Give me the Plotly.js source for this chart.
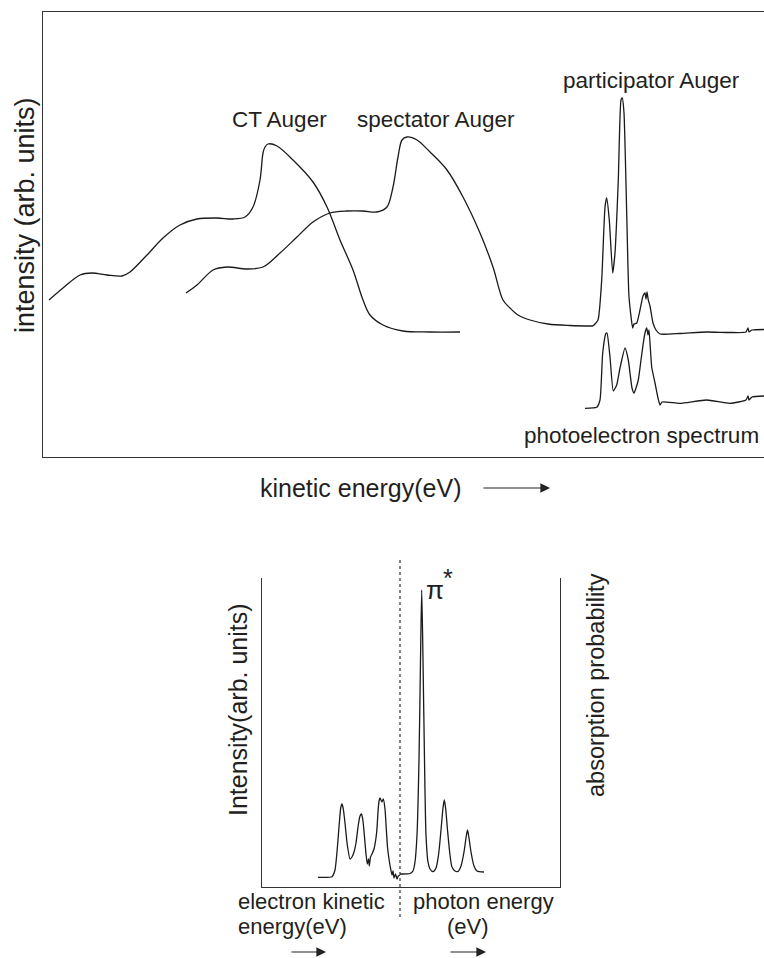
<!DOCTYPE html>
<html>
<head>
<meta charset="utf-8">
<script src="https://cdn.plot.ly/plotly-3.0.1.min.js"></script>
<style>html,body{margin:0;padding:0;background:#fff;}#chart{width:764px;height:958px;}</style>
</head>
<body>
<div id="chart"></div>
<script>
// ---------- Top panel: kinetic energy (arb.) vs intensity (arb.) ----------
const ctEnergy = [6,20,37,49,64,79,87,104,120,137,154,174,190,202,210,217,220,222,225,234,250,270,284,297,310,320,327,340,360,387,417];
const ctIntensity = [157,169,182,184,182,181,185,202,219,232,238,239,238,240,250,277,304,310,313,311,297,275,250,217,187,157,142,132,126,125,125];

const specEnergy = [143,154,170,184,204,220,237,254,270,287,304,320,334,344,350,355,359,364,374,387,404,420,437,450,460,467,475,487,505,527,550];
const specIntensity = [164,172,187,190,188,190,204,220,235,244,246,246,245,250,270,300,317,320,317,305,287,260,224,190,157,149,142,137,133,131.5,131];

const partEnergy = [550,555,558.7,562,563.7,566.3,569.7,572,575.3,578,579.3,581,583.7,586,589.7,591,593.7,597,600,602,603,604,605.3,607,610,613,617,637,663.7,687,703,705,706,709,721];
const partIntensity = [131,137,177,250,259,237,184,204,277,357,359,344,244,160,129,133,134,147,161,164,158,165,157,151,134,127,123,123.5,125,124.5,125,129,125,127,127.5];

const peEnergy = [542,553.7,557,559.7,563,564,567,570.3,573.7,577,582,585.3,589,591,593,595.3,598,600.3,602,603.7,605,606,608.7,612,615,617,619,637,663.7,687,703,705,706,709,721];
const peIntensity = [48.7,49.7,57,104,123.7,124,100,66,72,89,109,97,69,64,69,77,97,114,124,129,122,127,90,74,59,52,55,53.7,57,53.7,57,61,57,60,61];

// ---------- Bottom panel ----------
const ekEnergy = [56,70,73,75,77,78.7,80,81.3,83,85.3,88,90,92,94,96.3,98,99.5,101,102.5,104,105.3,106.5,107.3,108.5,110,112,114.7,116,117,118,120,121.3,123,124.3,125.5,127,128.5,130,131,132,133.5,135,136.3,138];
const ekIntensity = [9.7,10.3,17,35,60,79,83,78,64,42,28,30,35,44,62,71,73,66,50,33,23,28,21,30,33,38,55,75,86,89,85,88,78,58,40,28,19,12,16,9,13,8,11,12];

const phEnergy = [138,148,151,153,155,157,158.5,159.7,161,162.5,164,166,168,171,174,176.5,179,181,182.3,183.6,185.5,188,190,193,196,199,202,204,205.5,207,209,212,215,222];
const phIntensity = [13,13.5,16,25,52,127,227,297,227,127,52,25,18,15.3,19,32,57,79,87,79,57,32,20,16,15.5,21,35,49,57,49,35,21,16,15];

const textColor = '#231f20';
const lineColor = '#1a1a1a';
const W = 764, H = 958;
const px = v => v / W;
const py = v => 1 - v / H;

const lineStyle = (s) => ({color: lineColor, width: 1.3, shape: 'spline', smoothing: s});

const traces = [
  {x: ctEnergy, y: ctIntensity, mode: 'lines', line: lineStyle(0.9), xaxis: 'x', yaxis: 'y', name: 'CT Auger'},
  {x: specEnergy, y: specIntensity, mode: 'lines', line: lineStyle(0.9), xaxis: 'x', yaxis: 'y', name: 'spectator Auger'},
  {x: partEnergy, y: partIntensity, mode: 'lines', line: lineStyle(0.5), xaxis: 'x', yaxis: 'y', name: 'participator Auger'},
  {x: peEnergy, y: peIntensity, mode: 'lines', line: lineStyle(0.5), xaxis: 'x', yaxis: 'y', name: 'photoelectron spectrum'},
  {x: ekEnergy, y: ekIntensity, mode: 'lines', line: lineStyle(0.5), xaxis: 'x2', yaxis: 'y2', name: 'electron'},
  {x: phEnergy, y: phIntensity, mode: 'lines', line: lineStyle(0.7), xaxis: 'x2', yaxis: 'y2', name: 'photon'}
];

const axisBase = {showgrid: false, zeroline: false, showticklabels: false, ticks: '', showline: true, linecolor: '#333', linewidth: 1.3, fixedrange: true};

const fontBase = {family: '"Liberation Sans", Arial, Helvetica, sans-serif', color: textColor};
const ann = (text, x, y, size, extra) => Object.assign({
  text: text, x: px(x), y: py(y), xref: 'paper', yref: 'paper', showarrow: false,
  xanchor: 'center', yanchor: 'middle', font: Object.assign({}, fontBase, {size: size})
}, extra || {});
const arrow = (x0, x1, y) => ({
  text: '', x: px(x1), y: py(y), xref: 'paper', yref: 'paper', showarrow: true,
  ax: x0 - x1, ay: 0, axref: 'pixel', ayref: 'pixel', arrowhead: 2, arrowsize: 1.6, arrowwidth: 1.2,
  arrowcolor: '#222', standoff: 0, startstandoff: 0
});

const layout = {
  width: W, height: H,
  margin: {l: 0, r: 0, t: 0, b: 0},
  paper_bgcolor: '#fff', plot_bgcolor: '#fff',
  showlegend: false,
  xaxis: Object.assign({}, axisBase, {domain: [px(43), 1], range: [0, 721], mirror: true, anchor: 'y'}),
  yaxis: Object.assign({}, axisBase, {domain: [py(457), py(12)], range: [0, 445], mirror: false, anchor: 'x'}),
  xaxis2: Object.assign({}, axisBase, {domain: [px(262), px(560)], range: [0, 298], mirror: false, anchor: 'y2'}),
  yaxis2: Object.assign({}, axisBase, {domain: [py(887), py(578)], range: [0, 309], mirror: true, anchor: 'x2'}),
  shapes: [
    {type: 'line', xref: 'paper', yref: 'paper', x0: px(400), x1: px(400), y0: py(560), y1: py(918),
     line: {color: '#333', width: 1.2, dash: 'dot'}}
  ],
  annotations: [
    ann('intensity (arb. units)', 25, 215, 27, {textangle: -90}),
    ann('kinetic energy(eV)', 360, 488, 25),
    arrow(482, 550, 488),
    ann('CT Auger', 279, 119, 22.5),
    ann('spectator Auger', 435.5, 119, 22.5),
    ann('participator Auger', 651.5, 80.5, 22.5),
    ann('photoelectron spectrum', 641.5, 435.5, 22.5),
    ann('Intensity(arb. units)', 238, 710, 25, {textangle: -90}),
    ann('absorption probability', 596, 685, 23.5, {textangle: -90}),
    ann('π', 425, 590, 26, {xanchor: 'left', borderpad: 0}),
    ann('*', 442, 578, 25, {xanchor: 'left', borderpad: 0}),
    ann('electron kinetic', 236, 901, 22, {xanchor: 'left'}),
    ann('energy(eV)', 236, 926, 22, {xanchor: 'left'}),
    ann('photon energy', 411, 901, 22, {xanchor: 'left'}),
    ann('(eV)', 468, 926, 22),
    arrow(290, 326, 952),
    arrow(449, 486, 952)
  ]
};

Plotly.newPlot('chart', traces, layout, {staticPlot: true, displayModeBar: false});
</script>
</body>
</html>
